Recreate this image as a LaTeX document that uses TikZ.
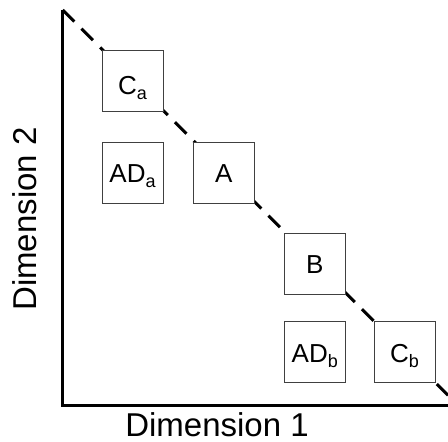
\documentclass[tikz,border=0pt]{standalone}
\usepackage{fontspec}
\setmainfont{Liberation Sans}
\usetikzlibrary{calc}

\newcommand{\boxlabel}[2]{#1\raisebox{-5pt}{\fontsize{18}{18}\selectfont #2}}

\begin{document}
\begin{tikzpicture}[x=1pt,y=-1pt,
    blk/.style={draw=black!75, line width=1pt, fill=white, minimum size=61pt, inner sep=0pt,
                text height=20pt, text depth=0pt, font=\fontsize{26}{26}\selectfont},
    axis/.style={line width=3pt},
    diag/.style={line width=3pt, dash pattern=on 16.3pt off 10.15pt}]
    \useasboundingbox (0,0) rectangle (448,442);

    % Axes
    \coordinate (top) at (62.7,10);
    \coordinate (orig) at (62.7,405);
    \coordinate (xend) at (448,405);
    \coordinate (diagend) at (448,395.3);
    \draw[axis] (top) -- (orig) -- (xend);

    % Diagonal, hidden under the blocks
    \draw[diag] (top) -- (diagend);

    % Blocks
    \node[blk, text height=28pt] (Ca) at (132.5,80.5) {\boxlabel{C}{a}};
    \node[blk] (ADa) at (132.5,172.5) {\boxlabel{AD}{a}};
    \node[blk] (A) at (223.8,172.5) {A};
    \node[blk] (B) at (314.8,263.8) {B};
    \node[blk] (ADb) at (314.8,352) {\boxlabel{AD}{b}};
    \node[blk] (Cb) at (404.5,352) {\boxlabel{C}{b}};

    % Axis labels
    \node[anchor=base, inner sep=0pt, font=\fontsize{33}{33}\selectfont] (dimx) at (217,436.7) {Dimension 1};
    \node[anchor=base, inner sep=0pt, rotate=90, font=\fontsize{33}{33}\selectfont] (dimy) at (36.7,219) {Dimension 2};
\end{tikzpicture}
\end{document}
